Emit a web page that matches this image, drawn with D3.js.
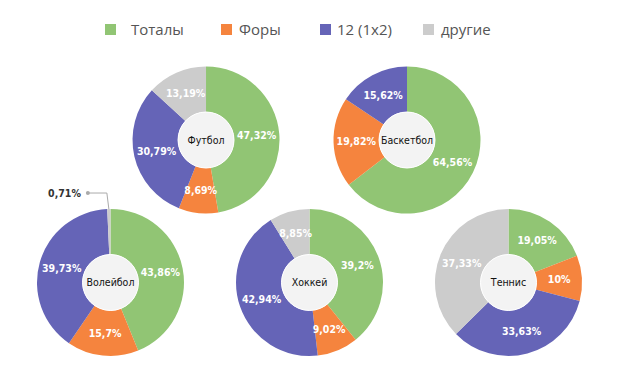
<!DOCTYPE html>
<html lang="ru">
<head>
<meta charset="UTF-8">
<script src="https://d3js.org/d3.v7.min.js"></script>
<style>
    body { margin: 0; background: #fff; }
    svg { display: block; }
    .legendText { font-family: "Open Sans", sans-serif; font-size: 15px; fill: #555; }
    .pctText { font-family: "DejaVu Sans Condensed", "DejaVu Sans", sans-serif; font-size: 10.5px; font-weight: bold; fill: #fff; }
    .outText { font-family: "DejaVu Sans Condensed", "DejaVu Sans", sans-serif; font-size: 10.5px; font-weight: bold; fill: #333; }
    .nameText { font-family: "DejaVu Sans Condensed", "DejaVu Sans", sans-serif; font-size: 10.5px; fill: #111; }
</style>
</head>
<body>
<script>

    var categories = ["Тоталы", "Форы", "12 (1x2)", "другие"];
    var colors = ["#91c574", "#f5843e", "#6564b7", "#cccccc"];
    var sports = ["Футбол", "Баскетбол", "Волейбол", "Хоккей", "Теннис"];

    // values per sport, in category order
    var football = [47.32, 8.69, 30.79, 13.19];
    var basketball = [64.56, 19.82, 15.62, 0];
    var volleyball = [43.86, 15.7, 39.73, 0.71];
    var hockey = [39.2, 9.02, 42.94, 8.85];
    var tennis = [19.05, 10, 33.63, 37.33];
    var values = [football, basketball, volleyball, hockey, tennis];

    // grid slot of each pie (column, row)
    var slotCol = [0.48, 1.49, 0, 1, 2];
    var slotRow = [0, 0, 1, 1, 1];

    var width = 618, height = 388;
    var outerR = 73.5, innerR = 28;

    var svg = d3.select("body").append("svg")
        .attr("width", width)
        .attr("height", height);

    var x = d3.scaleLinear().domain([0, 2]).range([110.5, 508.5]);
    var y = d3.scaleLinear().domain([0, 1]).range([140, 282.5]);

    // legend
    var legendX = [105, 221, 320, 423];
    var legendTextX = [131, 239, 337, 441];
    var legend = svg.append("g").attr("class", "legend");
    legend.selectAll("rect")
        .data(categories)
        .enter()
        .append("rect")
        .attr("x", function (d, i) { return legendX[i]; })
        .attr("y", 24)
        .attr("width", 11)
        .attr("height", 11)
        .attr("fill", function (d, i) { return colors[i]; });
    legend.selectAll("text")
        .data(categories)
        .enter()
        .append("text")
        .attr("class", "legendText")
        .attr("x", function (d, i) { return legendTextX[i]; })
        .attr("y", 35)
        .text(function (d) { return d; });

    var pie = d3.pie().sort(null).value(function (d) { return d; });
    var arc = d3.arc().innerRadius(innerR).outerRadius(outerR);

    function fmt(v) {
        return String(v).replace(".", ",") + "%";
    }

    sports.forEach(function (name, s) {
        var g = svg.append("g")
            .attr("transform", "translate(" + x(slotCol[s]) + "," + y(slotRow[s]) + ")");

        var arcs = pie(values[s]);

        g.selectAll("path")
            .data(arcs)
            .enter()
            .append("path")
            .attr("d", arc)
            .attr("fill", function (d, i) { return colors[i]; });

        g.append("circle")
            .attr("r", innerR)
            .attr("fill", "#f3f3f3")
            .attr("stroke", "#fff")
            .attr("stroke-width", 1);

        g.append("text")
            .attr("class", "nameText")
            .attr("text-anchor", "middle")
            .attr("dy", "0.35em")
            .text(name);

        // labels inside big slices
        g.selectAll(".pctText")
            .data(arcs.filter(function (d) { return d.data >= 2; }))
            .enter()
            .append("text")
            .attr("class", "pctText")
            .attr("text-anchor", "middle")
            .attr("dy", "0.35em")
            .attr("transform", function (d) { return "translate(" + arc.centroid(d) + ")"; })
            .text(function (d) { return fmt(d.data); });

        // small slices get an outside label with a connector
        arcs.filter(function (d) { return d.data > 0 && d.data < 2; }).forEach(function (d) {
            var a = (d.startAngle + d.endAngle) / 2;
            var p0 = [Math.sin(a) * outerR, -Math.cos(a) * outerR];
            var p1 = [p0[0] - 2, p0[1] - 16];
            var p2 = [p1[0] - 19, p1[1]];
            g.append("path")
                .attr("d", d3.line()([p0, p1, p2]))
                .attr("fill", "none")
                .attr("stroke", "#aaa")
                .attr("stroke-width", 1);
            g.append("circle")
                .attr("cx", p2[0])
                .attr("cy", p2[1])
                .attr("r", 2)
                .attr("fill", "#aaa");
            g.append("text")
                .attr("class", "outText")
                .attr("text-anchor", "end")
                .attr("x", p2[0] - 7)
                .attr("y", p2[1])
                .attr("dy", "0.35em")
                .text(fmt(d.data));
        });
    });

</script>
</body>
</html>
